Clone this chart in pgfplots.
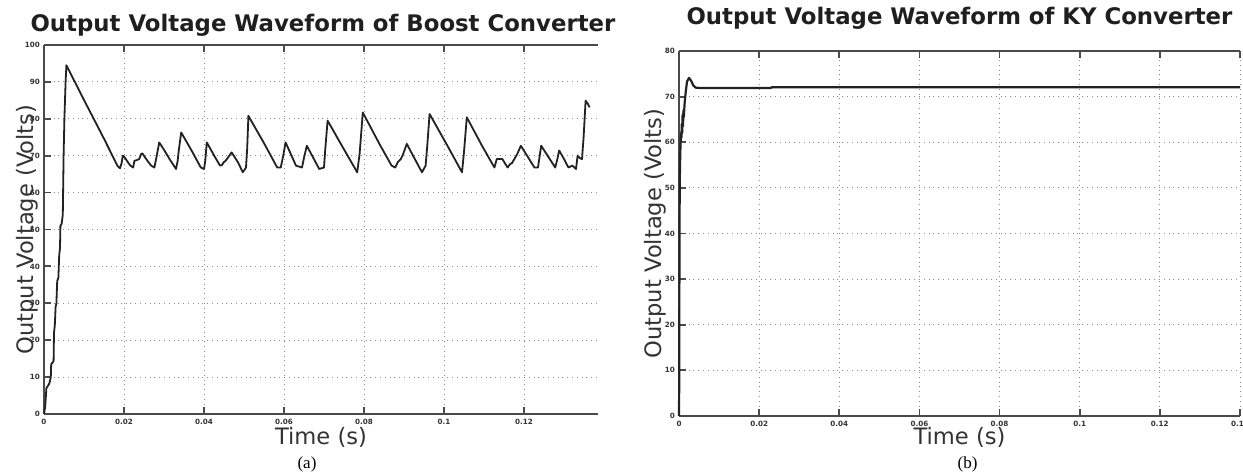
\documentclass[border=0pt]{standalone}
\usepackage{pgfplots}
\pgfplotsset{compat=1.18}
\usepackage{fontspec}
\setmainfont{DejaVu Sans}
\newfontfamily\capfont{Liberation Serif}
\definecolor{wave}{HTML}{222222}
\definecolor{frame}{HTML}{4A4A4A}
\definecolor{lbl}{HTML}{333333}

\pgfplotstableread{
t V
0 0
0.0003 2
0.0006 7
0.0012 8
0.0014 8.5
0.0017 10
0.0018 13.5
0.0022 14
0.0024 14.5
0.0025 22
0.0027 24
0.0029 29
0.0031 30
0.0033 36
0.0036 37
0.0038 43
0.0040 45
0.0041 51
0.0044 51.5
0.0047 54
0.0049 70
0.0051 80
0.0054 90
0.0056 94.5
0.0100 85.1
0.0150 74.6
0.0184 67.2
0.0190 66.6
0.0194 68.0
0.0197 70.0
0.0200 69.8
0.0210 68.2
0.0216 67.3
0.0223 66.8
0.0226 68.6
0.0232 68.8
0.0238 69.1
0.0243 70.5
0.0246 70.6
0.0258 68.7
0.0268 67.3
0.0276 66.8
0.0281 69.5
0.0284 71.2
0.0288 73.6
0.0300 71.6
0.0315 68.9
0.0330 66.4
0.0334 68.5
0.0337 71.5
0.0343 76.3
0.0370 71.2
0.0392 66.8
0.0400 66.4
0.0403 68.5
0.0407 73.6
0.0425 70.1
0.0440 67.3
0.0445 67.5
0.0450 68.3
0.0454 68.6
0.0460 69.5
0.0469 70.9
0.0485 68.2
0.0497 65.5
0.0505 66.8
0.0508 72.0
0.0511 80.8
0.0550 73.4
0.0583 66.8
0.0592 66.8
0.0598 70.0
0.0604 73.6
0.0630 67.3
0.0645 66.8
0.0650 69.4
0.0657 72.7
0.0688 66.4
0.0700 66.8
0.0703 71.5
0.0709 79.5
0.0750 71.7
0.0783 65.5
0.0789 70.5
0.0797 81.7
0.0840 72.9
0.0869 67.3
0.0878 66.8
0.0885 68.3
0.0892 69.1
0.0897 70.2
0.0907 73.2
0.0930 68.5
0.0945 65.5
0.0954 67.3
0.0958 72.5
0.0964 81.3
0.1005 73.4
0.1045 65.5
0.1050 71.0
0.1057 80.4
0.1095 72.7
0.1126 66.8
0.1132 69.1
0.1146 69.1
0.1152 68.0
0.1159 66.8
0.1165 67.7
0.1170 68.0
0.1178 69.5
0.1183 70.4
0.1192 72.7
0.1210 69.6
0.1226 66.8
0.1235 66.8
0.1239 69.8
0.1243 72.7
0.1262 69.5
0.1278 66.8
0.1283 68.9
0.1288 71.4
0.1300 69.1
0.1311 66.8
0.1321 67.3
0.1330 66.4
0.1334 70.0
0.1340 69.3
0.1345 69.1
0.1349 75.0
0.1354 84.9
0.1360 84.0
0.1364 83.1
}\boostdata

\pgfplotstableread{
t V
0 0
0.00005 7
0.0001 30
0.00015 45
0.0002 52
0.0003 57
0.0004 60
0.0005 62
0.0006 61
0.0007 64
0.0008 62
0.0009 66
0.0010 63.5
0.0011 67
0.0012 65.5
0.0014 68.5
0.0017 71.2
0.0020 73.3
0.0025 74.1
0.0030 73.5
0.0036 72.4
0.0042 71.95
0.0052 71.9
0.0230 71.9
0.0231 72.05
0.1400 72.05
}\kydata

\pgfplotsset{
  convstyle/.style={
    scale only axis,
    anchor=south west,
    axis x line*=box,
    axis y line*=left,
    tick align=inside,
    xtick pos=both,
    ytick pos=left,
    major tick length=3.5pt,
    axis line style={line width=1.2pt, color=frame},
    tick style={line width=0.9pt, color=frame},
    grid=major,
    major grid style={dotted, line width=0.5pt, color=black!45},
    ticklabel style={font=\fontsize{3.6}{3.8}\selectfont\bfseries, text=black!80},
    /pgf/number format/assume math mode=true,
    title style={font=\fontsize{11.4}{13}\selectfont\bfseries, text=black!88, anchor=base},
    xlabel style={font=\fontsize{11.3}{13}\selectfont, text=lbl, anchor=base},
    ylabel style={font=\fontsize{11.3}{13}\selectfont, text=lbl, anchor=base},
    xticklabel style={yshift=1pt},
    yticklabel style={xshift=1.5pt},
    clip=false,
  }
}

\begin{document}
\begin{tikzpicture}
\useasboundingbox (0,0) rectangle (621.5pt,237.5pt);
\begin{axis}[convstyle,
  name=A,
  at={(22pt,30.5pt)},
  width=277pt, height=184.5pt,
  xmin=0, xmax=0.1385, ymin=0, ymax=100,
  xtick={0,0.02,0.04,0.06,0.08,0.1,0.12},
  xticklabels={0,0.02,0.04,0.06,0.08,0.1,0.12},
  ytick={0,10,...,100},
  title={Output Voltage Waveform of Boost Converter},
  title style={at={(axis description cs:0.5,1)}, xshift=1pt, yshift=0.5pt},
  xlabel={Time (s)},
  xlabel style={at={(axis description cs:0.5,0)}, yshift=-15.5pt},
  ylabel={Output Voltage (Volts)},
  ylabel style={at={(axis description cs:0,0.5)}, yshift=5.5pt},
]
\addplot[color=wave, line width=0.9pt, line join=round] table[x=t,y=V] {\boostdata};
\end{axis}

\begin{axis}[convstyle,
  name=B,
  at={(339.5pt,29.5pt)},
  width=280.5pt, height=182.5pt,
  xmin=0, xmax=0.14, ymin=0, ymax=80,
  xtick={0,0.02,0.04,0.06,0.08,0.1,0.12,0.14},
  xticklabels={0,0.02,0.04,0.06,0.08,0.1,0.12,0.14},
  ytick={0,10,...,80},
  title={Output Voltage Waveform of KY Converter},
  title style={at={(axis description cs:0.5,1)}, yshift=7pt},
  xlabel={Time (s)},
  xlabel style={at={(axis description cs:0.5,0)}, yshift=-14.5pt},
  ylabel={Output Voltage (Volts)},
  ylabel style={at={(axis description cs:0,0.5)}, yshift=9pt},
]
\addplot[color=wave, line width=1.1pt, line join=round] table[x=t,y=V] {\kydata};
\end{axis}

\node[anchor=base, font=\capfont\fontsize{8.5}{10}\selectfont] at ([xshift=-7pt,yshift=-27.5pt]A.south) {(a)};
\node[anchor=base, font=\capfont\fontsize{8.5}{10}\selectfont] at ([xshift=4pt,yshift=-26.5pt]B.south) {(b)};
\end{tikzpicture}
\end{document}
